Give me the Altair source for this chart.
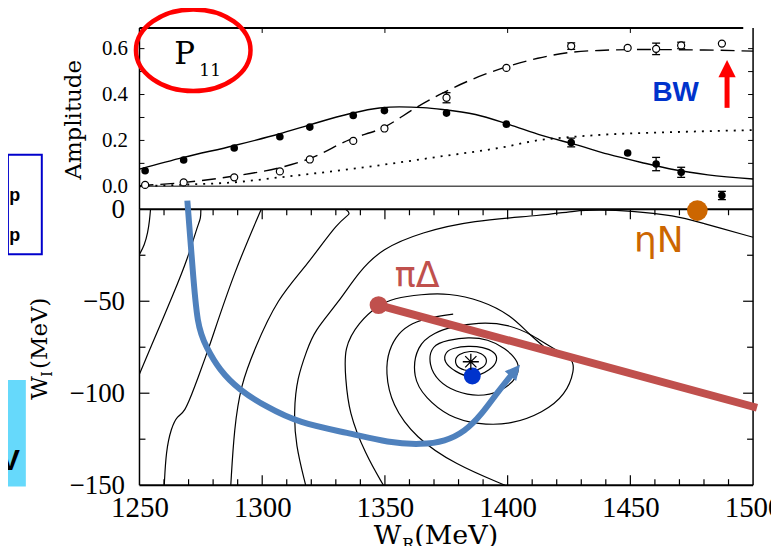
import altair as alt
import pandas as pd

# ---------------- upper panel : P11 partial-wave amplitude ----------------
pt_w = [1252.3, 1268.0, 1288.6, 1307.2, 1319.4, 1337.1, 1349.8, 1375.1, 1399.5, 1425.9, 1448.9, 1460.5, 1470.7, 1487.3]
pt_re = [0.068, 0.115, 0.167, 0.216, 0.258, 0.309, 0.330, 0.319, 0.271, 0.191, 0.145, 0.097, 0.061, -0.040]
pt_im = [0.006, 0.017, 0.039, 0.065, 0.117, 0.198, 0.252, 0.386, 0.516, 0.611, 0.603, 0.599, 0.614, 0.622]
err_re = [0, 0, 0, 0, 0, 0, 0, 0, 0, 0.019, 0, 0.029, 0.022, 0.018]
err_im = [0, 0, 0, 0, 0, 0, 0, 0.022, 0, 0.014, 0, 0.025, 0.014, 0]

solid_w = [1250, 1268, 1288.4, 1307.2, 1319.4, 1335.6, 1347.8, 1355.9, 1365.4, 1373.5, 1386.9, 1400.4, 1413.9, 1427.4, 1440.9, 1454.5, 1468, 1481.6, 1500]
solid_a = [0.075, 0.126, 0.177, 0.229, 0.268, 0.316, 0.341, 0.346, 0.343, 0.335, 0.313, 0.270, 0.222, 0.183, 0.140, 0.104, 0.072, 0.050, 0.032]
dash_w = [1250, 1268.3, 1288.6, 1307.5, 1319.7, 1335.9, 1349.4, 1363, 1372, 1385.3, 1398.8, 1412.3, 1425.9, 1439.4, 1452.9, 1480, 1500]
dash_a = [0.003, 0.017, 0.045, 0.082, 0.122, 0.205, 0.256, 0.345, 0.398, 0.465, 0.518, 0.558, 0.584, 0.593, 0.596, 0.594, 0.589]
dot_w = [1250, 1270, 1288, 1307, 1336, 1372, 1399, 1412, 1426, 1439, 1467, 1500]
dot_a = [0.0, 0.008, 0.017, 0.039, 0.075, 0.129, 0.172, 0.200, 0.215, 0.225, 0.236, 0.245]

# ---------------- lower panel : contours in the complex W plane ----------------
c1_wr = [1254.5, 1254.1, 1253.4, 1252.0, 1250.0]
c1_wi = [0.0, -6.1, -12.6, -19.7, -24.5]
c2_wr = [1275.0, 1275.0, 1273.7, 1269.6, 1264.2, 1254.1, 1250.0]
c2_wi = [0.0, -5.0, -8.8, -26.9, -44.9, -76.5, -89.5]
c3_wr = [1299.6, 1288.6, 1279.1, 1277.7, 1272.3, 1268.3, 1265.5, 1262.9, 1260.8, 1260.1]
c3_wi = [0.0, -34.1, -72.0, -77.4, -97.3, -110.8, -112.1, -118.9, -131.6, -150.0]
c4_wr = [1333.9, 1336.6, 1331.2, 1318.3, 1306.1, 1296.7, 1291.3, 1288.6, 1287.2]
c4_wi = [0.0, -2.5, -6.1, -30.5, -48.5, -76.5, -95.5, -118.9, -150.0]
c5_wr = [1500.0, 1478.0, 1468.5, 1449.6, 1436.7, 1427.9, 1414.4, 1385.3, 1365.0, 1348.7, 1339.3, 1331.2, 1321.0, 1318.3, 1314.2, 1312.9, 1313.6, 1317.7]
c5_wi = [-15.2, -7.0, -3.4, -0.7, -0.4, -0.7, -3.4, -6.1, -12.5, -21.4, -34.1, -50.4, -66.6, -76.5, -91.8, -109.9, -128.0, -150.0]
c6_wr = [1349.4, 1342.1, 1335.2, 1334.0, 1333.2, 1339.3, 1347.4, 1353.5, 1364.9, 1375.8, 1389.2, 1401.4, 1409.1, 1416.4]
c6_wi = [-150.0, -133.4, -110.1, -91.7, -75.4, -61.4, -52.1, -48.4, -46.2, -45.6, -49.4, -57.6, -68.4, -76.5]
c6b_wr = [1398.9, 1378.7, 1362.4, 1352.7, 1350.2, 1351.5, 1355.5, 1360.8, 1368.9, 1377.8]
c6b_wi = [-150.0, -138.8, -124.2, -106.3, -88.4, -76.5, -67.3, -61.9, -58.6, -57.0]
c7_wr = [1362.8, 1370.5, 1377.0, 1388.0, 1400.2, 1410.3, 1419.2, 1426.5, 1427.3, 1423.7, 1414.4, 1401.4, 1388.0, 1375.8, 1366.5, 1361.2]
c7_wi = [-73.8, -66.8, -64.1, -61.4, -62.4, -68.4, -76.5, -80.8, -87.3, -100.9, -110.6, -117.1, -117.1, -112.8, -102.5, -91.7]
c8_wr = [1368.9, 1367.7, 1371.8, 1378.7, 1388.0, 1397.3, 1404.2, 1405.0, 1398.9, 1392.0, 1383.9, 1375.8]
c8_wi = [-73.8, -84.6, -93.8, -99.3, -102.0, -99.3, -91.7, -83.0, -75.4, -70.6, -69.5, -71.1]
c9_wr = [1374.6, 1373.8, 1378.7, 1385.1, 1393.3, 1396.1, 1394.9, 1390.0, 1383.9, 1377.8]
c9_wi = [-77.6, -83.0, -88.4, -92.2, -87.3, -81.9, -77.6, -74.9, -74.3, -75.4]
c10_wr = [1378.2, 1379.9, 1384.7, 1389.6, 1392.0, 1390.4, 1385.1, 1379.9]
c10_wi = [-82.5, -78.7, -76.8, -78.1, -81.9, -86.3, -88.4, -86.8]

blue_wr = [1269.5, 1271.6, 1273.5, 1277.1, 1282.5, 1290.6, 1301.4, 1314.9, 1335.2, 1351.5, 1365.0, 1374.5, 1382.6, 1389.3, 1396.1, 1401.5]
blue_wi = [4.7, -31.4, -63.5, -74.7, -87.3, -98.2, -107.2, -116.2, -121.6, -127.0, -128.0, -126.2, -120.8, -111.7, -99.1, -90.1]
red_wr = [1347.4, 1501.6]
red_wi = [-52.1, -107.9]

x_major = [1300, 1350, 1400, 1450]
x_minor = [1260, 1270, 1280, 1290, 1310, 1320, 1330, 1340, 1360, 1370, 1380, 1390,
           1410, 1420, 1430, 1440, 1460, 1470, 1480, 1490]
wi_major = [-50, -100]
wi_minor = [-25, -75, -125]
amp_ticks = [0.1, 0.2, 0.3, 0.4, 0.5, 0.6]

# ---------------- scales / axes ----------------
XS = alt.Scale(domain=[1250, 1500], nice=False, zero=False)
YS_U = alt.Scale(domain=[-0.1, 0.69], range=[182, 0], nice=False, zero=False)
YS_L = alt.Scale(domain=[-150, 0], range=[459, 182], nice=False, zero=False)

AX_X = alt.Axis(values=[1250, 1300, 1350, 1400, 1450, 1500], format="d", title=None, orient="bottom",
                domain=False, ticks=False, tickSize=0, grid=False, labelFont="Liberation Serif",
                labelFontSize=29, labelColor="black", labelPadding=8, labelFlush=False,
                labelOverlap=False, labelBound=False)
AX_YU = alt.Axis(values=[0, 0.2, 0.4, 0.6], format=".1f", title=None, orient="left",
                 domain=False, ticks=False, tickSize=0, grid=False, labelFont="Liberation Serif",
                 labelFontSize=21, labelColor="black", labelPadding=12, labelFlush=False,
                 labelOverlap=False, labelBound=False)
AX_YL = alt.Axis(values=[0, -50, -100, -150], format="d", title=None, orient="left",
                 domain=False, ticks=False, tickSize=0, grid=False, labelFont="Liberation Serif",
                 labelFontSize=27, labelColor="black", labelPadding=15, labelFlush=False,
                 labelOverlap=False, labelBound=False)


def X(f):
    return alt.X(f, type="quantitative", scale=XS, axis=AX_X)


def XD(v):
    return alt.XDatum(v, type="quantitative", scale=XS, axis=AX_X)


def YU(f):
    return alt.Y(f, type="quantitative", scale=YS_U, axis=AX_YU)


def YUD(v):
    return alt.YDatum(v, type="quantitative", scale=YS_U, axis=AX_YU)


def YL(f):
    return alt.Y(f, type="quantitative", scale=YS_L, axis=AX_YL)


def YLD(v):
    return alt.YDatum(v, type="quantitative", scale=YS_L, axis=AX_YL)


ONE = pd.DataFrame({"k": [0]})


def C(df=None):
    return alt.Chart(ONE if df is None else df)


# ---------------- upper panel layers ----------------
df_pts = pd.DataFrame({"w": pt_w, "re": pt_re, "im": pt_im, "ere": err_re, "eim": err_im})
df_solid = pd.DataFrame({"w": solid_w, "a": solid_a})
df_dash = pd.DataFrame({"w": dash_w, "a": dash_a})
df_dot = pd.DataFrame({"w": dot_w, "a": dot_a})
df_at = pd.DataFrame({"t": amp_ticks})
df_xt = pd.DataFrame({"t": x_major})

up = []
up.append(C().mark_rule(color="#555555", strokeWidth=1.5).encode(x=XD(1250), x2=alt.X2Datum(1500), y=YUD(0)))
up.append(C().mark_rule(color="black", strokeWidth=2).encode(x=XD(1250), x2=alt.X2Datum(1496), y=YUD(0.69)))
up.append(C().mark_rule(color="black", strokeWidth=1.5).encode(x=XD(1250), y=YUD(-0.1), y2=alt.Y2Datum(0.69)))
up.append(C().mark_rule(color="black", strokeWidth=1.5).encode(x=XD(1500), y=YUD(-0.1), y2=alt.Y2Datum(0.69)))
up.append(C(df_at).mark_rule(color="black", strokeWidth=1, x2Offset=5).encode(x=XD(1250), x2=alt.X2Datum(1250), y=YU("t")))
up.append(C(df_at).mark_rule(color="black", strokeWidth=1, x2Offset=-5).encode(x=XD(1500), x2=alt.X2Datum(1500), y=YU("t")))
up.append(C(df_xt).mark_rule(color="black", strokeWidth=1, y2Offset=5).encode(x=X("t"), y=YUD(0.69), y2=alt.Y2Datum(0.69)))

up.append(C(df_dot).mark_line(color="black", strokeWidth=1.8, strokeDash=[2, 6], interpolate="monotone").encode(x=X("w"), y=YU("a")))
up.append(C(df_dash).mark_line(color="black", strokeWidth=1.4, strokeDash=[14, 7], interpolate="monotone").encode(x=X("w"), y=YU("a")))
up.append(C(df_solid).mark_line(color="black", strokeWidth=1.4, interpolate="monotone").encode(x=X("w"), y=YU("a")))

for val, er in (("re", "ere"), ("im", "eim")):
    eb = C(df_pts).transform_filter(f"datum.{er} > 0").transform_calculate(
        lo=f"datum.{val} - datum.{er}", hi=f"datum.{val} + datum.{er}")
    up.append(eb.mark_rule(color="black", strokeWidth=1.3).encode(x=X("w"), y=YU("lo:Q"), y2=alt.Y2("hi:Q")))
    up.append(eb.mark_rule(color="black", strokeWidth=1.3, xOffset=-4, x2Offset=4).encode(x=X("w"), x2=alt.X2("w"), y=YU("lo:Q")))
    up.append(eb.mark_rule(color="black", strokeWidth=1.3, xOffset=-4, x2Offset=4).encode(x=X("w"), x2=alt.X2("w"), y=YU("hi:Q")))

up.append(C(df_pts).mark_circle(size=58, color="black", opacity=1).encode(x=X("w"), y=YU("re")))
up.append(C(df_pts).mark_point(shape="circle", size=50, filled=True, fill="white", stroke="black",
                               strokeWidth=1.2, opacity=1).encode(x=X("w"), y=YU("im")))

# annotations, upper
ELLIPSE = "M-1,0A1,0.713,0,1,1,1,0A1,0.713,0,1,1,-1,0Z"
TRI = "M0,-1L-1,1L1,1Z"
up.append(C().mark_point(shape=ELLIPSE, size=13225, filled=False, stroke="#ff0000", strokeWidth=4.5,
                         opacity=1).encode(x=XD(1271.9), y=YUD(0.593)))
up.append(C().mark_text(text="P", font="DejaVu Serif", fontSize=31, align="left", baseline="alphabetic",
                        color="black").encode(x=XD(1264.2), y=YUD(0.533)))
up.append(C().mark_text(text="11", font="DejaVu Serif", fontSize=17, align="left", baseline="alphabetic",
                        color="black").encode(x=XD(1274.4), y=YUD(0.480)))
up.append(C().mark_text(text="BW", font="Liberation Sans", fontWeight="bold", fontSize=28, align="left",
                        baseline="alphabetic", color="#0033cc").encode(x=XD(1459.0), y=YUD(0.372)))
up.append(C().mark_rule(color="#ff0000", strokeWidth=5).encode(x=XD(1489.4), y=YUD(0.342), y2=alt.Y2Datum(0.495)))
up.append(C().mark_point(shape=TRI, size=300, filled=True, color="#ff0000", opacity=1).encode(x=XD(1489.4), y=YUD(0.513)))
up.append(C().mark_text(text="Amplitude", font="DejaVu Serif", fontSize=23, angle=270, align="center",
                        baseline="alphabetic", color="black").encode(x=XD(1226.1), y=YUD(0.29)))

upper = alt.layer(*up)

# ---------------- lower panel layers ----------------
def contour_frame(names_lists):
    rows = []
    for cid, (wr, wi) in names_lists.items():
        for i, (a, b) in enumerate(zip(wr, wi)):
            rows.append({"cid": cid, "o": i, "wr": a, "wi": b})
    return pd.DataFrame(rows)


df_open = contour_frame({"c1": (c1_wr, c1_wi), "c2": (c2_wr, c2_wi), "c3": (c3_wr, c3_wi),
                         "c4": (c4_wr, c4_wi), "c5": (c5_wr, c5_wi), "c6": (c6_wr, c6_wi),
                         "c6b": (c6b_wr, c6b_wi)})
df_closed = contour_frame({"c7": (c7_wr, c7_wi), "c8": (c8_wr, c8_wi), "c9": (c9_wr, c9_wi),
                           "c10": (c10_wr, c10_wi)})
df_blue = pd.DataFrame({"wr": blue_wr, "wi": blue_wi})
df_red = pd.DataFrame({"wr": red_wr, "wi": red_wi})
df_xmaj = pd.DataFrame({"t": x_major})
df_xmin = pd.DataFrame({"t": x_minor})
df_ymaj = pd.DataFrame({"t": wi_major})
df_ymin = pd.DataFrame({"t": wi_minor})

lo = []
# left-edge slide fragments
lo.append(C().mark_rect(fill="#66d9fb", stroke=None).encode(x=XD(1196.4), x2=alt.X2Datum(1203.7), y=YLD(-92.8), y2=alt.Y2Datum(-150.7)))
lo.append(C().mark_text(text="V", font="Liberation Sans", fontWeight="bold", fontSize=30, align="center",
                        baseline="alphabetic", color="black").encode(x=XD(1197.2), y=YLD(-141.5)))
lo.append(C().mark_rect(fillOpacity=0, stroke="#0000cc", strokeWidth=2).encode(x=XD(1196.4), x2=alt.X2Datum(1210.2), y=YLD(29.6), y2=alt.Y2Datum(-24.5)))
for yv in (4.7, -17.0):
    lo.append(C().mark_text(text="p", font="Liberation Sans", fontWeight="bold", fontSize=18, align="left",
                            baseline="alphabetic", color="black").encode(x=XD(1196.9), y=YLD(yv)))

# frame
lo.append(C().mark_rule(color="black", strokeWidth=2).encode(x=XD(1250), x2=alt.X2Datum(1500), y=YLD(0)))
lo.append(C().mark_rule(color="black", strokeWidth=2).encode(x=XD(1250), x2=alt.X2Datum(1500), y=YLD(-150)))
lo.append(C().mark_rule(color="black", strokeWidth=1.5).encode(x=XD(1250), y=YLD(-150), y2=alt.Y2Datum(0)))
lo.append(C().mark_rule(color="black", strokeWidth=1.5).encode(x=XD(1500), y=YLD(-150), y2=alt.Y2Datum(0)))
for df, ln in ((df_xmaj, 10), (df_xmin, 6)):
    lo.append(C(df).mark_rule(color="black", strokeWidth=1.2, y2Offset=-ln).encode(x=X("t"), y=YLD(-150), y2=alt.Y2Datum(-150)))
    lo.append(C(df).mark_rule(color="black", strokeWidth=1.2, y2Offset=ln).encode(x=X("t"), y=YLD(0), y2=alt.Y2Datum(0)))
for df, ln in ((df_ymaj, 10), (df_ymin, 6)):
    lo.append(C(df).mark_rule(color="black", strokeWidth=1.2, x2Offset=ln).encode(y=YL("t"), x=XD(1250), x2=alt.X2Datum(1250)))
    lo.append(C(df).mark_rule(color="black", strokeWidth=1.2, x2Offset=-ln).encode(y=YL("t"), x=XD(1500), x2=alt.X2Datum(1500)))

# contours
lo.append(C(df_open).mark_line(color="black", strokeWidth=1.2, interpolate="basis").encode(
    x=X("wr"), y=YL("wi"), detail="cid:N", order="o:Q"))
lo.append(C(df_closed).mark_line(color="black", strokeWidth=1.2, interpolate="basis-closed").encode(
    x=X("wr"), y=YL("wi"), detail="cid:N", order="o:Q"))

# annotations
lo.append(C(df_red).mark_line(color="#c0504d", strokeWidth=8, strokeCap="butt").encode(x=X("wr"), y=YL("wi")))
lo.append(C(df_blue).mark_line(color="#4f81bd", strokeWidth=6, strokeCap="butt", interpolate="basis").encode(x=X("wr"), y=YL("wi")))
lo.append(C().mark_point(shape=TRI, size=225, angle=40, filled=True, color="#4f81bd", opacity=1).encode(x=XD(1403.1), y=YLD(-87.6)))
lo.append(C().mark_circle(size=320, color="#c0504d", opacity=1).encode(x=XD(1347.4), y=YLD(-52.1)))
lo.append(C().mark_circle(size=290, color="#0033cc", opacity=1).encode(x=XD(1385.6), y=YLD(-90.6)))
lo.append(C().mark_circle(size=430, color="#cc6600", opacity=1).encode(x=XD(1477.3), y=YLD(-0.7)))
lo.append(C().mark_point(shape="M-1,0L1,0M0,-1L0,1M-0.7,-0.7L0.7,0.7M-0.7,0.7L0.7,-0.7", size=260,
                         filled=False, stroke="black", strokeWidth=1.3, opacity=1).encode(x=XD(1385.0), y=YLD(-82.9)))
lo.append(C().mark_text(text="πΔ", font="DejaVu Sans", fontSize=35, align="left", baseline="alphabetic",
                        color="#c0504d").encode(x=XD(1354.0), y=YLD(-42.4)))
lo.append(C().mark_text(text="ηN", font="DejaVu Sans", fontSize=36, align="left", baseline="alphabetic",
                        color="#cc6600").encode(x=XD(1451.5), y=YLD(-23.4)))

# axis titles with subscripts
lo.append(C().mark_text(text="W", font="DejaVu Serif", fontSize=27, align="right", baseline="alphabetic",
                        color="black").encode(x=XD(1356.7), y=YLD(-182.1)))
lo.append(C().mark_text(text="R", font="DejaVu Serif", fontSize=16, align="left", baseline="alphabetic",
                        color="black").encode(x=XD(1357.1), y=YLD(-185.4)))
lo.append(C().mark_text(text="(MeV)", font="DejaVu Serif", fontSize=27, align="left", baseline="alphabetic",
                        color="black").encode(x=XD(1362.0), y=YLD(-182.1)))
lo.append(C().mark_text(text="W", font="DejaVu Serif", fontSize=23, angle=270, align="left",
                        baseline="alphabetic", color="black").encode(x=XD(1212.3), y=YLD(-103.6)))
lo.append(C().mark_text(text="I", font="DejaVu Serif", fontSize=14, angle=270, align="left",
                        baseline="alphabetic", color="black").encode(x=XD(1214.3), y=YLD(-91.1)))
lo.append(C().mark_text(text="(MeV)", font="DejaVu Serif", fontSize=23, angle=270, align="left",
                        baseline="alphabetic", color="black").encode(x=XD(1212.3), y=YLD(-86.8)))

lower = alt.layer(*lo)

chart = alt.layer(upper, lower).resolve_scale(y="independent").properties(
    width=616, height=459,
    padding={"left": 132, "top": 19, "right": 18, "bottom": 60},
    autosize=alt.AutoSizeParams(type="none"),
).configure_view(stroke=None).configure_axis(grid=False)

chart.save("out.html", embed_options={"renderer": "svg", "actions": False})
